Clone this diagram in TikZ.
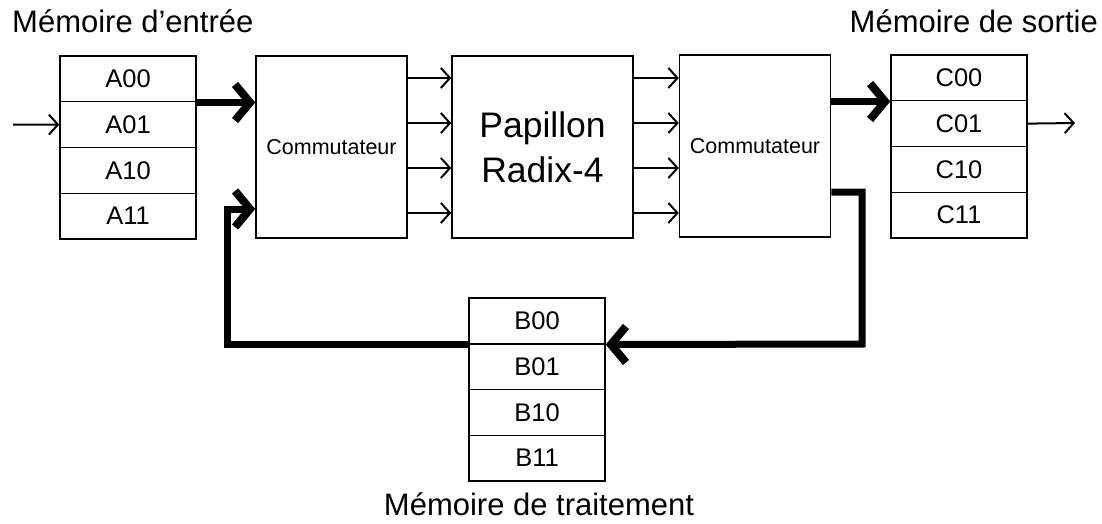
\documentclass[tikz,border=0pt]{standalone}
\usepackage{fontspec}
\setmainfont{Liberation Sans}
\usepackage{tikz}
\usetikzlibrary{arrows.meta}
\tikzset{
    cell/.style={draw, line width=1.5pt, minimum width=136pt, minimum height=45.75pt,
        inner sep=0pt, font=\fontsize{25.5}{28}\selectfont},
    block/.style={draw, line width=1.5pt, minimum width=151pt, minimum height=182pt,
        inner sep=0pt, align=center},
    thin arrow/.style={line width=2pt, -{Straight Barb[length=9pt,width=20pt]}},
    bus/.style={line width=7pt, -{Straight Barb[length=15pt,width=36pt,line width=8pt]}},
    title/.style={font=\fontsize{31}{34}\selectfont, inner sep=0pt},
}

\begin{document}
\begin{tikzpicture}[x=1pt, y=-1pt]
    \useasboundingbox (0,0) rectangle (1102,524);
    % memoires
    \foreach \c [count=\i from 0] in {00,01,10,11}
    {%
        \pgfmathsetmacro{\ya}{56+45.75*\i+22.875}
        \pgfmathsetmacro{\yb}{298+45.75*\i+22.875}
        \pgfmathsetmacro{\yc}{55+45.75*\i+22.875}
        \node[cell] (A\c) at (128,\ya) {A\c};
        \node[cell] (B\c) at (537,\yb) {B\c};
        \node[cell] (C\c) at (959,\yc) {C\c};
    }
        \node[title, anchor=base west] (lblA) at (12,33) {Mémoire d’entrée};
        \node[title, anchor=base east] (lblC) at (1098,33) {Mémoire de sortie};
        \node[title, anchor=base] (lblB) at (539,515) {Mémoire de traitement};

    % blocs
        \node[block, font=\fontsize{21.5}{24}\selectfont] (comm1) at (331.5,147) {Commutateur};
        \node[block, minimum width=181pt, font=\fontsize{35.5}{45}\selectfont] (pap) at (542.5,147) {Papillon\\Radix-4};
        \node[block, font=\fontsize{21.5}{24}\selectfont] (comm2) at (755,146) {Commutateur};

    \foreach \y in {78,123,168,213}
    {%
        \draw[thin arrow] (comm1.east |- 0,\y) -- (pap.west |- 0,\y);
        \draw[thin arrow] (pap.east |- 0,\y) -- (comm2.west |- 0,\y);
    }

        \coordinate (in) at (13,124.6);
        \coordinate (out) at (1075,123);
        \coordinate (turnR) at (862,344);
        \coordinate (turnL) at (227,209);
        \draw[thin arrow] (in) -- (A01.west);
        \draw[thin arrow] (C01.east) -- (out);

        \draw[bus] (A00.south east) -- (comm1.west |- A00.south east);
        \draw[bus] (comm2.east |- C00.south west) -- (C00.south west);
        \draw[bus] (comm2.east |- 0,192) -| (turnR) -- (B00.south east);
        \draw[bus] (B00.south west) -| (turnL) -- (comm1.west |- turnL);
\end{tikzpicture}
\end{document}
